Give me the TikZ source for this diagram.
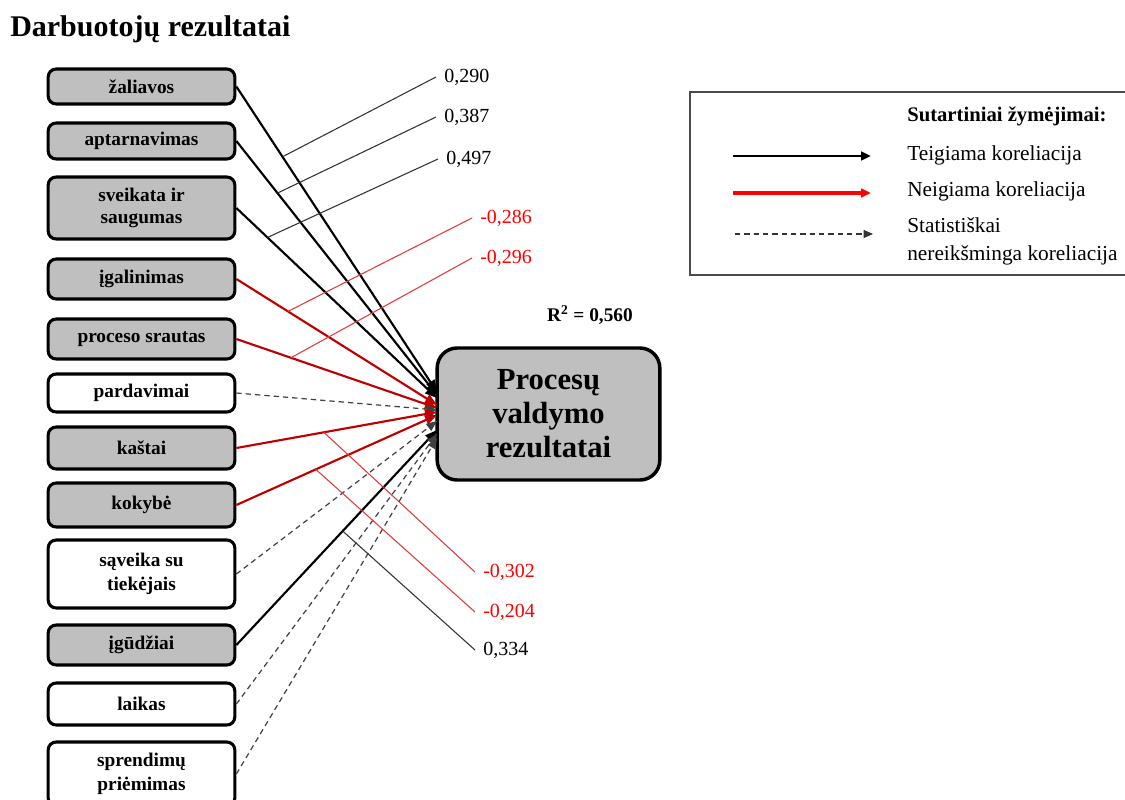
\documentclass[tikz,border=0pt]{standalone}
\usepackage{fontspec}
\setmainfont{Liberation Serif}
\usetikzlibrary{arrows.meta}
\definecolor{boxgray}{HTML}{BFBFBF}
\definecolor{negc}{HTML}{C00000}
\definecolor{labred}{HTML}{FF0000}
\definecolor{linered}{HTML}{E03C3C}
\definecolor{linegray}{HTML}{333333}
\begin{document}
\begin{tikzpicture}[x=0.75pt,y=-0.75pt,
  box/.style={draw, line width=2.3pt, rounded corners=6pt, minimum width=140pt, align=center, inner sep=2pt, font=\bfseries\fontsize{14.5}{17}\selectfont},
  sig/.style={fill=boxgray},
  nsg/.style={fill=white},
  posarr/.style={line width=1.6pt, draw=black, -{Triangle[length=9pt,width=7pt]}},
  negarr/.style={line width=1.6pt, color=negc, -{Triangle[length=9pt,width=7pt]}},
  nsarr/.style={line width=0.9pt, color=black!75, dash pattern=on 4pt off 3pt, -{Triangle[length=8pt,width=6.5pt]}},
  lead/.style={line width=0.8pt, draw=linegray},
  leadr/.style={line width=0.8pt, draw=linered},
  val/.style={anchor=west, inner xsep=6pt, inner ysep=1pt, font=\fontsize{15}{17}\selectfont},
  legtext/.style={anchor=west, inner sep=0pt, align=left, font=\fontsize{16}{21}\selectfont},
]
\useasboundingbox (0,0) rectangle (1125,800);
\clip (0,0) rectangle (1125,800);
\fill[white] (0,0) rectangle (1125,800);

% title
\node[anchor=west, inner sep=0pt, font=\bfseries\fontsize{22.5}{26}\selectfont] (title) at (10,29) {Darbuotojų rezultatai};

% left boxes
\node[box,sig,minimum height=26.25pt] (n1) at (141.5,86.5) {žaliavos};
\node[box,sig,minimum height=27pt] (n2) at (141.5,141) {aptarnavimas};
\node[box,sig,minimum height=46.5pt] (n3) at (141.5,208) {sveikata ir\\saugumas};
\node[box,sig,minimum height=30pt] (n4) at (141.5,279) {įgalinimas};
\node[box,sig,minimum height=30pt] (n5) at (141.5,339) {proceso srautas};
\node[box,nsg,minimum height=28.5pt] (n6) at (141.5,393) {pardavimai};
\node[box,sig,minimum height=31.5pt] (n7) at (141.5,448) {kaštai};
\node[box,sig,minimum height=33pt] (n8) at (141.5,505) {kokybė};
\node[box,nsg,minimum height=51pt,font=\bfseries\fontsize{14.5}{18}\selectfont] (n9) at (141.5,574) {sąveika su\\tiekėjais};
\node[box,sig,minimum height=30pt] (n10) at (141.5,645) {įgūdžiai};
\node[box,nsg,minimum height=31.5pt] (n11) at (141.5,704) {laikas};
\node[box,nsg,minimum height=48pt,font=\bfseries\fontsize{14.5}{18}\selectfont] (n12) at (141.5,774) {sprendimų\\priėmimas};

% main box
\node[draw, line width=2.6pt, rounded corners=15pt, fill=boxgray, minimum width=167pt, minimum height=99pt, align=center, font=\bfseries\fontsize{23}{25.5}\selectfont] (main) at (548.5,414) {Procesų\\valdymo\\rezultatai};
\node[font=\bfseries\fontsize{14.5}{17}\selectfont] (r2) at (590,315) {R\textsuperscript{2} = 0,560};

% arrow end points on the main box
\coordinate (e1) at (437,392);
\coordinate (e2) at (437,395);
\coordinate (e3) at (437,398);
\coordinate (e4) at (437,405);
\coordinate (e5) at (437,408);
\coordinate (e6) at (437,410);
\coordinate (e7) at (437,412);
\coordinate (e8) at (437,415);
\coordinate (e9) at (437,421);
\coordinate (e10) at (437,430);
\coordinate (e11) at (437,434);
\coordinate (e12) at (437,438);

% connectors
\draw[posarr] (n1.east) -- coordinate[pos=0.23] (a1) (e1);
\draw[posarr] (n2.east) -- coordinate[pos=0.205] (a2) (e2);
\draw[posarr] (n3.east) -- coordinate[pos=0.155] (a3) (e3);
\draw[negarr] (n4.east) -- coordinate[pos=0.257] (a4) (e4);
\draw[negarr] (n5.east) -- coordinate[pos=0.272] (a5) (e5);
\draw[nsarr] (n6.east) -- (e6);
\draw[negarr] (n7.east) -- coordinate[pos=0.436] (a7) (e7);
\draw[negarr] (n8.east) -- coordinate[pos=0.396] (a8) (e8);
\draw[nsarr] (n9.east) -- (e9);
\draw[posarr] (n10.east) -- coordinate[pos=0.53] (a10) (e10);
\draw[nsarr] (n11.east) -- (e11);
\draw[nsarr] (n12.east) -- (e12);

% coefficient labels
\node[val] (l1) at (436,77) {0,290};
\node[val] (l2) at (436,117) {0,387};
\node[val] (l3) at (438,159) {0,497};
\node[val,text=labred] (l4) at (472,218) {-0,286};
\node[val,text=labred] (l5) at (472,258) {-0,296};
\node[val,text=labred] (l6) at (475,572) {-0,302};
\node[val,text=labred] (l7) at (475,612) {-0,204};
\node[val] (l8) at (475,650) {0,334};

\draw[lead] (a1) -- (l1.west);
\draw[lead] (a2) -- (l2.west);
\draw[lead] (a3) -- (l3.west);
\draw[leadr] (a4) -- (l4.west);
\draw[leadr] (a5) -- (l5.west);
\draw[leadr] (a7) -- (l6.west);
\draw[leadr] (a8) -- (l7.west);
\draw[lead] (a10) -- (l8.west);

% legend
\draw[draw=black!70, line width=1.2pt] (690,92) rectangle (1140,275);
\node[anchor=west, inner sep=0pt, font=\bfseries\fontsize{15.5}{18}\selectfont] (lt) at (907,116) {Sutartiniai žymėjimai:};
\coordinate (ls1) at (733,156); \coordinate (le1) at (871,156);
\coordinate (ls2) at (733,193); \coordinate (le2) at (871,193);
\coordinate (ls3) at (735,234); \coordinate (le3) at (873,234);
\draw[line width=2pt, -{Triangle[length=7.5pt,width=6.5pt]}] (ls1) -- (le1);
\draw[line width=2.4pt, color=labred, -{Triangle[length=7.5pt,width=6.5pt]}] (ls2) -- (le2);
\draw[line width=0.8pt, color=black!80, dash pattern=on 4pt off 3pt, -{Triangle[length=7pt,width=6pt]}] (ls3) -- (le3);
\node[legtext] (lg1) at (907,155) {Teigiama koreliacija};
\node[legtext] (lg2) at (907,191) {Neigiama koreliacija};
\node[legtext] (lg3) at (907,241) {Statistiškai\\nereikšminga koreliacija};
\end{tikzpicture}
\end{document}
